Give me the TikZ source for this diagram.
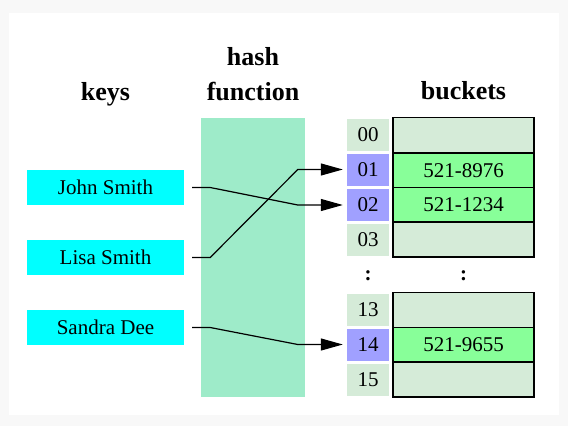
\documentclass[tikz,border=0pt]{standalone}
\usepackage{fontspec}
\setmainfont{Liberation Serif}
\usetikzlibrary{arrows.meta}
\definecolor{hashc}{RGB}{158,235,201}
\definecolor{keyc}{RGB}{0,255,255}
\definecolor{lightc}{RGB}{213,235,216}
\definecolor{lavc}{RGB}{160,160,255}
\definecolor{fullc}{RGB}{136,255,153}
\definecolor{outerc}{RGB}{248,248,248}
\begin{document}
\begin{tikzpicture}[x=1pt,y=-1pt,
  title/.style={font=\fontsize{26}{30}\selectfont\bfseries, anchor=base, inner sep=0pt},
  body/.style={font=\fontsize{21}{25}\selectfont},
  keybox/.style={body, fill=keyc, minimum width=157pt, minimum height=35pt, inner sep=0pt},
  idx/.style={body, minimum width=42pt, minimum height=32pt, inner sep=0pt},
  idxe/.style={idx, fill=lightc},
  idxf/.style={idx, fill=lavc},
  bucket/.style={body, draw=black, line width=1.3pt, minimum width=141pt, minimum height=35pt, inner sep=0pt},
  bucke/.style={bucket, fill=lightc},
  buckf/.style={bucket, fill=fullc},
  conn/.style={line width=1.2pt, -{Triangle[length=22pt,width=12pt]}, shorten >=4pt},
  dots/.style={font=\fontsize{21}{25}\selectfont\bfseries, inner sep=0pt}
]
\fill[outerc] (0,0) rectangle (568,426);
\fill[white] (9,13) rectangle (559,415);
\useasboundingbox (0,0) rectangle (568,426);

\node[title] (tkeys) at (105.5,100) {keys};
\node[title] (thash) at (253,65) {hash};
\node[title] (tfun) at (253,100) {function};
\node[title] (tbuck) at (463.5,99) {buckets};

\node[fill=hashc, minimum width=104pt, minimum height=279pt, inner sep=0pt] (hash) at (253,257.5) {};

\node[keybox] (john) at (105.5,187.5) {John Smith};
\node[keybox] (lisa) at (105.5,257.5) {Lisa Smith};
\node[keybox] (sandra) at (105.5,327.5) {Sandra Dee};

\node[idxe] (i00) at (368,135) {00};
\node[idxf] (i01) at (368,169.5) {01};
\node[idxf] (i02) at (368,205) {02};
\node[idxe] (i03) at (368,240) {03};
\node[idxe] (i13) at (368,310) {13};
\node[idxf] (i14) at (368,344.5) {14};
\node[idxe] (i15) at (368,379.5) {15};

\node[bucke] (b00) at (463.5,135) {};
\node[buckf] (b01) at (463.5,170.5) {521-8976};
\node[buckf] (b02) at (463.5,205) {521-1234};
\node[bucke] (b03) at (463.5,239.5) {};
\node[bucke] (b13) at (463.5,310) {};
\node[buckf] (b14) at (463.5,345) {521-9655};
\node[bucke] (b15) at (463.5,379.5) {};

\node[dots] (d1) at (368,276) {:};
\node[dots] (d2) at (463.5,276) {:};

\draw[conn] ([xshift=8pt]john.east) -- ++(18,0) -- ([xshift=-49pt]i02.west) -- (i02.west);
\draw[conn] ([xshift=8pt]lisa.east) -- ++(18,0) -- ([xshift=-49pt]i01.west) -- (i01.west);
\draw[conn] ([xshift=8pt]sandra.east) -- ++(18,0) -- ([xshift=-49pt]i14.west) -- (i14.west);
\end{tikzpicture}
\end{document}
